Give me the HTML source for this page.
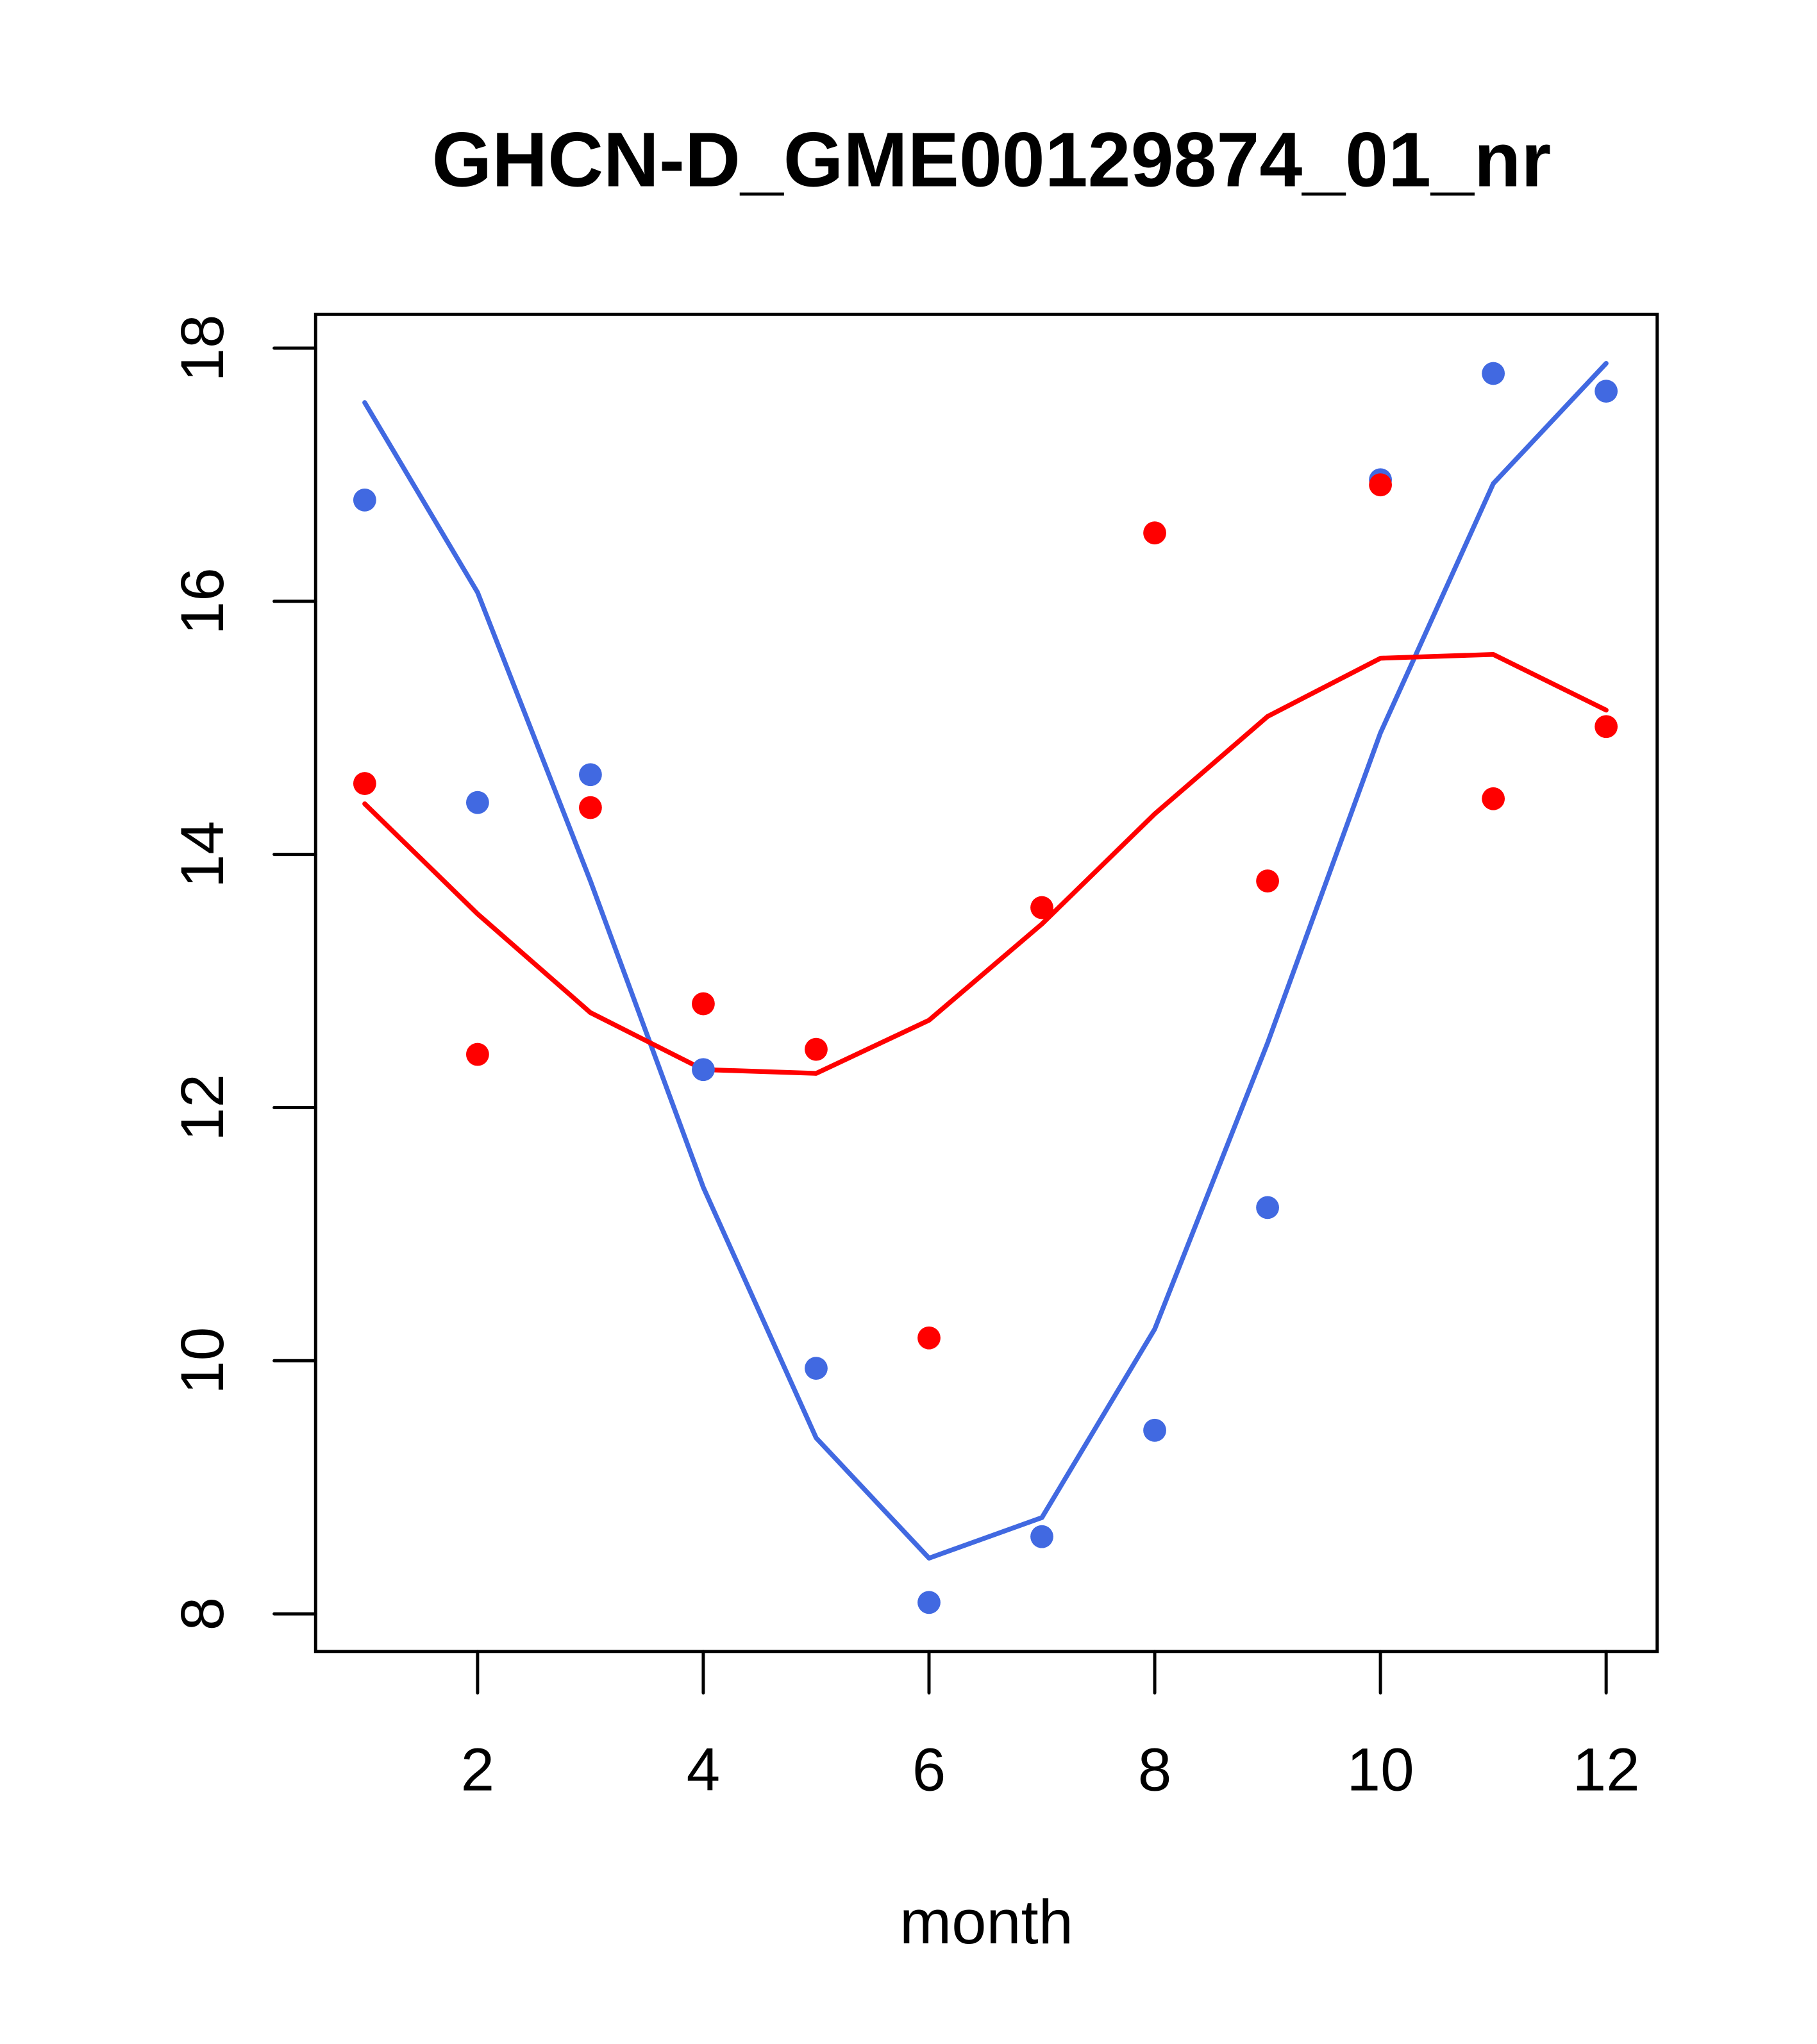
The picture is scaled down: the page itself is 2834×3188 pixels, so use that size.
<!DOCTYPE html>
<html><head><meta charset="utf-8"><style>
html,body{margin:0;padding:0;background:#fff;}
svg{display:block;font-family:"Liberation Sans",Arial,sans-serif;}
</style></head><body>
<svg id="chart" width="2834" height="3188" viewBox="0 0 2834 3188">
<g transform="scale(0.9945)">
<text x="1555" y="292" font-size="121" font-weight="bold" text-anchor="middle">GHCN-D_GME00129874_01_nr</text>
<rect x="495" y="493" width="2104" height="2097" fill="none" stroke="#000" stroke-width="5"/>
<g id="xaxis"></g>
<g id="yaxis"></g>
<text x="1547" y="3048" font-size="98" text-anchor="middle">month</text>
<g id="marks"></g>
</g>
</svg>
<script>
const months=[1,2,3,4,5,6,7,8,9,10,11,12];
const bluePoints=[16.80,14.41,14.63,12.30,9.94,8.09,8.61,9.45,11.21,16.96,17.80,17.66];
const redPoints=[14.56,12.42,14.37,12.82,12.46,10.18,13.58,16.54,13.79,16.92,14.44,15.01];
const blueLine=[17.57,16.07,13.79,11.37,9.39,8.44,8.76,10.25,12.51,14.96,16.93,17.88];
const redLine=[14.40,13.53,12.75,12.30,12.27,12.69,13.45,14.32,15.09,15.55,15.58,15.14];
const xTicks=[2,4,6,8,10,12];
const yTicks=[8,10,12,14,16,18];

const NS="http://www.w3.org/2000/svg";
function xs(m){return 749+(m-2)*177;}
function ys(v){return 2531-(v-8)*198.5;}
function mk(tag,attrs,parent){const e=document.createElementNS(NS,tag);for(const k in attrs)e.setAttribute(k,attrs[k]);parent.appendChild(e);return e;}
const xa=document.getElementById('xaxis'),ya=document.getElementById('yaxis'),mg=document.getElementById('marks');
xTicks.forEach(t=>{
  const l=mk('line',{x1:xs(t),x2:xs(t),y1:2590,y2:2655,stroke:'#000','stroke-width':5,'stroke-linecap':'round'},xa);
  
  
  const tx=mk('text',{x:xs(t),y:2808,'font-size':95,'text-anchor':'middle'},xa);
  tx.textContent=t;
  
  
});
yTicks.forEach(t=>{
  const l=mk('line',{x1:430,x2:495,y1:ys(t),y2:ys(t),stroke:'#000','stroke-width':5,'stroke-linecap':'round'},ya);
  
  
  const tx=mk('text',{x:0,y:0,'font-size':95,'text-anchor':'middle',transform:`translate(350,${ys(t)}) rotate(-90)`},ya);
  tx.textContent=t;
  
  
});
function line(vals,color,name){
  const p=mk('polyline',{points:months.map((m,i)=>xs(m)+','+ys(vals[i])).join(' '),fill:'none',stroke:color,'stroke-width':7.5,'stroke-linejoin':'round','stroke-linecap':'round'},mg);
  
  
}
function pts(vals,color,name){
  months.forEach((m,i)=>{
    const c=mk('circle',{cx:xs(m),cy:ys(vals[i]),r:18,fill:color},mg);
    
    
  });
}
line(blueLine,'#4169E1','blue-line');
line(redLine,'#FF0000','red-line');
pts(bluePoints,'#4169E1','blue-point');
pts(redPoints,'#FF0000','red-point');
</script>
</body></html>
